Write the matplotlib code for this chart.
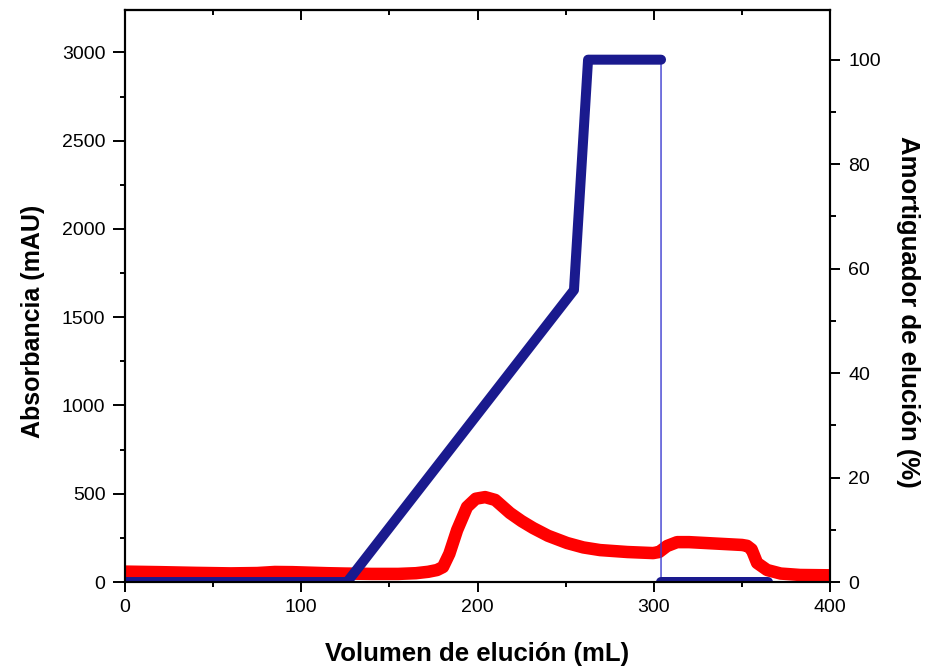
import matplotlib.pyplot as plt
import numpy as np

# absorbancia (mAU) vs volumen (mL)
vol_abs = [0, 20, 40, 60, 75, 85, 95, 105, 115, 125, 140, 155, 165, 172, 177,
           180.4, 184, 188.4, 194, 199, 204.3, 210, 218.4, 225, 231.5, 240,
           250.8, 260, 269.5, 285, 299.6, 303, 307.5, 313.2, 320, 335, 350,
           352.9, 355.5, 358.6, 364.3, 372, 383, 400]
absorb = [59, 56, 52, 49, 51, 57, 56, 53, 50, 48, 46, 46, 50, 58, 68,
          85, 160, 294, 425, 472, 481, 465, 391, 345, 306, 262,
          221, 196, 181, 170, 164, 170, 204, 226, 226, 218, 210,
          205, 185, 108, 68, 48, 40, 38]

# amortiguador de elucion (%)
vol_buf = [0, 126, 254.7, 262.7, 304.1]
buffer = [0, 0, 55.9, 100, 100]
vol_buf2 = [304.1, 364.8]
buffer2 = [0, 0]

plt.rcParams['font.family'] = ['Liberation Sans', 'DejaVu Sans']

fig = plt.figure(figsize=(9.29, 6.7), dpi=100)
ax = fig.add_axes([0.1346, 0.1313, 0.7589, 0.8537])
ax2 = ax.twinx()

ax.plot(vol_abs, absorb, color='#ff0000', lw=9,
        solid_capstyle='round', solid_joinstyle='round')

navy = '#1a1a8e'
ax2.plot(vol_buf + vol_buf2, buffer + buffer2, color='#3a3ad0', lw=1)
ax2.plot(vol_buf, buffer, color=navy, lw=7.2,
         solid_capstyle='round', solid_joinstyle='round')
ax2.plot(vol_buf2, buffer2, color=navy, lw=7.2, solid_capstyle='round')

ax.set_xlim(0, 400)
ax.set_ylim(0, 3240)
ax2.set_ylim(0, 109.5)

ax.set_xticks(np.arange(0, 401, 100))
ax.set_xticks(np.arange(50, 400, 100), minor=True)
ax.set_yticks(np.arange(0, 3001, 500))
ax.set_yticks(np.arange(250, 3001, 500), minor=True)
ax2.set_yticks(np.arange(0, 101, 20))
ax2.set_yticks(np.arange(10, 101, 20), minor=True)

ax.tick_params(axis='x', which='major', direction='out', length=7, width=1.4,
               labelsize=14, pad=5)
ax.tick_params(axis='x', which='minor', direction='out', length=3.6, width=1.4)
ax.tick_params(axis='y', which='major', direction='out', length=8.6, width=1.4,
               labelsize=14, pad=5.5, right=False)
ax.tick_params(axis='y', which='minor', direction='out', length=3.6, width=1.4,
               right=False)
ax2.tick_params(axis='y', which='major', direction='out', length=7.5, width=1.4,
                labelsize=14, pad=5.5)
ax2.tick_params(axis='y', which='minor', direction='out', length=4.3, width=1.4)

top = ax.secondary_xaxis('top')
top.set_xticks(np.arange(0, 401, 100))
top.set_xticks(np.arange(50, 400, 100), minor=True)
top.tick_params(which='major', direction='in', length=7, width=1.4,
                labeltop=False)
top.tick_params(which='minor', direction='in', length=3.6, width=1.4)

for a in (ax, ax2):
    for s in a.spines.values():
        s.set_linewidth(1.5)
top.spines['top'].set_linewidth(1.5)

ax.set_xlabel('Volumen de elución (mL)', fontsize=18.5, fontweight='bold')
ax.set_ylabel('Absorbancia (mAU)', fontsize=18, fontweight='bold')
ax2.set_ylabel('Amortiguador de elución (%)', fontsize=18.5,
               fontweight='bold', rotation=270)
ax.xaxis.set_label_coords(0.5, -0.105)
ax.yaxis.set_label_coords(-0.113, 0.456)
ax2.yaxis.set_label_coords(1.127, 0.472)

fig.savefig('out.png', dpi=100)
